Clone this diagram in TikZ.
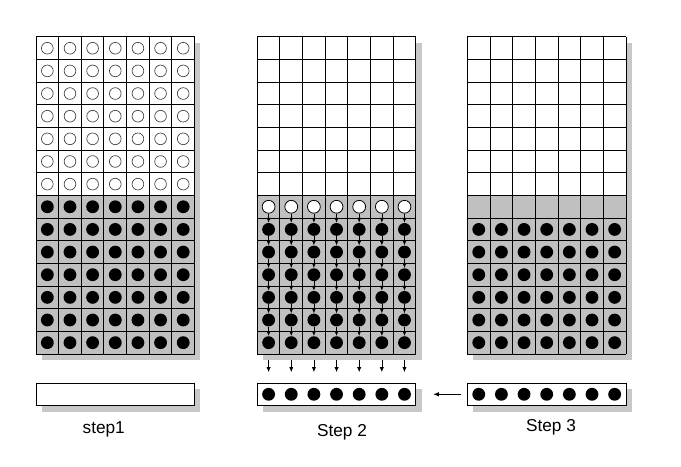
\documentclass[tikz,border=0pt]{standalone}
\usepackage{fontspec}
\setmainfont{Liberation Sans}
\usetikzlibrary{arrows.meta}

\definecolor{cellgray}{RGB}{192,192,192}
\definecolor{shadowgray}{RGB}{200,200,200}

\begin{document}
\begin{tikzpicture}[x=0.6cm,y=0.6cm,
  grid/.style={draw=black, line width=0.7pt, step=0.6cm},
  hole/.style={circle, draw=black!75, line width=0.5pt, fill=white, inner sep=0pt, minimum size=3.1mm},
  inhole/.style={circle, draw=black, line width=0.6pt, fill=white, inner sep=0pt, minimum size=3.4mm},
  ball/.style={circle, fill=black, inner sep=0pt, minimum size=3.4mm},
  bar/.style={draw=black, line width=0.7pt, fill=white, minimum width=4.2cm, minimum height=0.6cm, inner sep=0pt},
  flow/.style={line width=0.5pt, -{Latex[length=1.3mm,width=1.1mm]}},
  steplabel/.style={font=\fontsize{13}{15}\selectfont}]

\useasboundingbox (0,0) rectangle (30.07,-20.62);

% Step 1 panel
\begin{scope}[shift={(1.59,-1.63)}]
  \fill[shadowgray] (0.26,-0.26) rectangle (7.26,-14.26);
  \fill[white] (0,0) rectangle (7,-7);
  \fill[cellgray] (0,-7) rectangle (7,-14);
  \draw[grid] (0,0) grid (7,-14);
  \foreach \c in {1,...,7} {
    \foreach \r in {1,...,7}
      \node[hole] (a-\c-\r) at (\c-0.5,-\r+0.5) {};
    \foreach \r in {8,...,14}
      \node[ball] (a-\c-\r) at (\c-0.5,-\r+0.5) {};
  }
  % empty bar
  \fill[shadowgray] (0.26,-15.54) rectangle (7.26,-16.54);
  \node[bar] (bar1) at (3.5,-15.78) {};
\end{scope}

% Step 2 panel
\begin{scope}[shift={(11.36,-1.63)}]
  \fill[shadowgray] (0.26,-0.26) rectangle (7.26,-14.26);
  \fill[white] (0,0) rectangle (7,-7);
  \fill[cellgray] (0,-7) rectangle (7,-14);
  \draw[grid] (0,0) grid (7,-14);
  \foreach \c in {1,...,7} {
    \node[inhole] (b-\c-8) at (\c-0.5,-7.5) {};
    \foreach \r in {9,...,14}
      \node[ball] (b-\c-\r) at (\c-0.5,-\r+0.5) {};
    \foreach \r [evaluate=\r as \n using int(\r+1)] in {8,...,13}
      \draw[flow] (b-\c-\r) -- (b-\c-\n);
    % drop into the bar
    \coordinate (t-\c) at (\c-0.5,-14.25);
    \coordinate (h-\c) at (\c-0.5,-14.8);
    \draw[flow] (t-\c) -- (h-\c);
  }
  \fill[shadowgray] (0.26,-15.54) rectangle (7.26,-16.54);
  \node[bar] (bar2) at (3.5,-15.78) {};
  \foreach \c in {1,...,7}
    \node[ball] (bb-\c) at (\c-0.5,-15.78) {};
\end{scope}

% Step 3 panel
\begin{scope}[shift={(20.64,-1.63)}]
  \fill[shadowgray] (0.26,-0.26) rectangle (7.26,-14.26);
  \fill[white] (0,0) rectangle (7,-7);
  \fill[cellgray] (0,-7) rectangle (7,-14);
  \draw[grid] (0,0) grid (7,-14);
  \foreach \c in {1,...,7}
    \foreach \r in {9,...,14}
      \node[ball] (c-\c-\r) at (\c-0.5,-\r+0.5) {};
  \fill[shadowgray] (0.26,-15.54) rectangle (7.26,-16.54);
  \node[bar] (bar3) at (3.5,-15.78) {};
  \foreach \c in {1,...,7}
    \node[ball] (cb-\c) at (\c-0.5,-15.78) {};
\end{scope}

% Bar moves back
\draw[line width=0.6pt, -{Latex[length=1.5mm,width=1.2mm]}, shorten <=1.6mm, shorten >=4.5mm] (bar3.west) -- (bar2.east);

% Labels
\node[steplabel] (lab1) at (4.58,-18.94) {step1};
\node[steplabel] (lab2) at (15.1,-19.07) {Step 2};
\node[steplabel] (lab3) at (24.33,-18.85) {Step 3};

\end{tikzpicture}
\end{document}
